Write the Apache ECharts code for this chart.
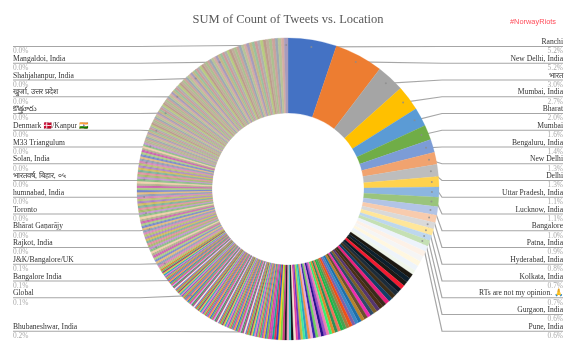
<!DOCTYPE html>
<html>
<head>
<meta charset="utf-8">
<style>
html, body { margin: 0; padding: 0; background: #fff; }
/* the reference is a soft, scaled screenshot */
#chart { width: 570px; height: 353px; filter: blur(0.35px); }
</style>
<script src="https://cdn.jsdelivr.net/npm/echarts@6/dist/echarts.min.js"></script>
</head>
<body>
<div id="chart"></div>
<script>
// labelled slices on the right, clockwise from 12 o'clock
const rightNames = ['Ranchi', 'New Delhi, India', 'भारत', 'Mumbai, India', 'Bharat', 'Mumbai', 'Bengaluru, India', 'New Delhi', 'Delhi', 'Uttar Pradesh, India', 'Lucknow, India', 'Bangalore', 'Patna, India', 'Hyderabad, India', 'Kolkata, India', 'RTs are not my opinion. 🙏', 'Gurgaon, India', 'Pune, India']
const rightValues = [5.2, 5.2, 3.0, 2.7, 2.0, 1.6, 1.4, 1.3, 1.3, 1.1, 1.1, 1.0, 0.9, 0.8, 0.7, 0.7, 0.6, 0.6]
const rightColors = ['#4472C4', '#ED7D31', '#A5A5A5', '#FFC000', '#5B9BD5', '#70AD47', '#7C9CD6', '#F1A36F', '#BDBDBD', '#FFD24D', '#8CB6E0', '#9AC47C', '#B2C4E6', '#F8CBAD', '#D9D9D9', '#FFE699', '#BDD7EE', '#C5E0B4']

// left labels, top row first. percent = where the slice sits around the ring
const leftNames = ['', 'Mangaldoi, India', 'Shahjahanpur, India', 'खुर्जा, उत्तर प्रदेश', 'కొత్తూరు', 'Denmark 🇩🇰/Kanpur 🇮🇳', 'M33 Triangulum', 'Solan, India', 'भारतवर्ष, बिहार, ०५', 'humnabad, India', 'Toronto', 'Bhārat Gaṇarājy', 'Rajkot, India', 'J&K/Bangalore/UK', 'Bangalore India', 'Global', 'Bhubaneshwar, India']
const leftPercents = ['0.0%', '0.0%', '0.0%', '0.0%', '0.0%', '0.0%', '0.0%', '0.0%', '0.0%', '0.0%', '0.0%', '0.0%', '0.0%', '0.1%', '0.1%', '0.1%', '0.2%']
const leftAnchors = [99.9, 92, 88.8, 86, 83.8, 81.6, 79.7, 77.9, 76, 74.1, 72.3, 70.4, 68.3, 66.3, 64, 61.6, 51.8]
const leftRows = [0, 1, 2, 3, 4, 5, 6, 7, 8, 9, 10, 11, 12, 13, 14, 15, 17]

// unlabelled pale slices after Pune
const paleValues = [0.6, 0.6, 0.6, 0.55, 0.55, 0.5]
const paleColors = ['#EDF3FB', '#FDF1E7', '#F5F5F5', '#FFF7E0', '#EEF4FA', '#F0F6EB']

// the dark wedge running down to the bottom of the ring
const darkValues = [
  0.5, 0.5, 0.48, 0.48, 0.46, 0.46, 0.45, 0.44, 0.43, 0.42,
  0.41, 0.4, 0.4, 0.39, 0.38, 0.38, 0.37, 0.36, 0.36, 0.35,
  0.34, 0.34, 0.33, 0.33, 0.32, 0.32, 0.31, 0.31, 0.3, 0.3,
  0.3, 0.29, 0.29, 0.28, 0.28, 0.27, 0.27, 0.26, 0.26, 0.25,
  0.25, 0.25, 0.24, 0.24, 0.24, 0.23, 0.23, 0.22, 0.22, 0.22,
  0.22, 0.22, 0.22
]
const darkColors = [
  '#1c1810', '#0d1f2c', '#1a1a16', '#f21a30', '#0b1824', '#1c2c3a', '#3b2d18', '#123f66', '#e8207a', '#3a2a1c',
  '#4a2f14', '#55356e', '#7b5f28', '#2d4a68', '#f02cb0', '#6a5030', '#b8822c', '#1f6ea8', '#3a88c8', '#8060a8',
  '#f04f18', '#a87a40', '#4aa050', '#18b848', '#f0705a', '#2a8f5a', '#e08a2c', '#38f070', '#f080b0', '#9a50c8',
  '#28108c', '#d888d0', '#70d060', '#3828a8', '#e8a8e0', '#f09048', '#30a0c0', '#40e8a0', '#c0c040', '#6838c0',
  '#e040a0', '#f8e0d0', '#101018', '#38c8c8', '#f0a0c0', '#1a1a20', '#d03880', '#80d040', '#f8d020', '#2840c0',
  '#e83050', '#18a890', '#c050c0'
]

// bottom left, saturated stripes
const brightValues = [
  0.19, 0.18, 0.18, 0.17, 0.17, 0.17, 0.16, 0.16, 0.16, 0.16,
  0.17, 0.16, 0.17, 0.16, 0.16, 0.15, 0.16, 0.16, 0.15, 0.16,
  0.16, 0.15, 0.16, 0.15, 0.16, 0.15, 0.15, 0.16, 0.15, 0.16,
  0.15, 0.15, 0.16, 0.15, 0.15, 0.14, 0.15, 0.15, 0.15, 0.15,
  0.15, 0.14, 0.15, 0.15, 0.16, 0.14, 0.15, 0.15, 0.16, 0.15,
  0.15, 0.14, 0.15, 0.14, 0.15, 0.14, 0.15, 0.14, 0.15, 0.14,
  0.14, 0.14, 0.15, 0.14, 0.13, 0.14, 0.14, 0.14, 0.14, 0.14,
  0.14, 0.13, 0.14, 0.13, 0.14, 0.13, 0.14, 0.13, 0.14, 0.13,
  0.13, 0.13, 0.14, 0.13, 0.13, 0.13, 0.13, 0.13, 0.13, 0.12,
  0.15, 0.15, 0.15, 0.15, 0.15
]
const brightColors = ['#e0409a', '#7cc34a', '#3f6fd0', '#f2b030', '#c04fb8', '#37b59c', '#e85a5a', '#98d050', '#8a5cc8', '#f07fb0', '#2aa8c8', '#d8d040', '#a03a70', '#5fc870', '#e07830', '#6a7ac8', '#f0f0e0', '#b8408a', '#40a060', '#d0a0e0']

// around 9 o'clock, stripes blur into olive and tan
const mutedValues = [
  0.13, 0.12, 0.13, 0.12, 0.12, 0.11, 0.13, 0.12, 0.11, 0.11,
  0.12, 0.11, 0.13, 0.12, 0.12, 0.13, 0.11, 0.12, 0.12, 0.12,
  0.12, 0.13, 0.11, 0.12, 0.11, 0.13, 0.12, 0.12, 0.12, 0.12,
  0.11, 0.12, 0.13, 0.12, 0.12, 0.11, 0.13, 0.12, 0.12, 0.12,
  0.12, 0.12, 0.11, 0.13, 0.12, 0.12, 0.12, 0.11, 0.13, 0.12,
  0.13, 0.11, 0.12, 0.12, 0.12, 0.13, 0.12, 0.11, 0.12, 0.12,
  0.12, 0.12, 0.13, 0.11, 0.12, 0.12, 0.13, 0.12, 0.11, 0.12,
  0.11, 0.13, 0.12, 0.12, 0.12, 0.12, 0.11, 0.13, 0.12, 0.12,
  0.12, 0.11, 0.12, 0.13, 0.12, 0.12, 0.12, 0.13, 0.11, 0.12,
  0.13, 0.12, 0.11, 0.12, 0.12, 0.12, 0.13, 0.11, 0.12, 0.12,
  0.12, 0.12, 0.12, 0.11, 0.13, 0.12, 0.12, 0.12, 0.13, 0.11,
  0.1, 0.1, 0.1, 0.1, 0.1, 0.1, 0.1, 0.1
]
const mutedColors = ['#b4c070', '#d884b8', '#8c9cb8', '#e0b878', '#7484cc', '#a8cc80', '#cc60b0', '#b0b088', '#f0cca8', '#84bc80', '#c090d0', '#a4b868', '#e08c9c', '#78b098', '#d0b858', '#a880c8']

// top left, the palest run up to 12 o'clock
const fadedValues = [
  0.16, 0.17, 0.16, 0.18, 0.17, 0.16, 0.18, 0.17, 0.17, 0.18,
  0.18, 0.17, 0.19, 0.18, 0.18, 0.19, 0.18, 0.19, 0.18, 0.19,
  0.19, 0.2, 0.19, 0.2, 0.2, 0.19, 0.21, 0.2, 0.2, 0.21,
  0.21, 0.2, 0.22, 0.21, 0.22, 0.21, 0.22, 0.22, 0.21, 0.23,
  0.22, 0.23, 0.22, 0.24, 0.23, 0.23, 0.24, 0.23, 0.25, 0.24,
  0.24, 0.25, 0.24, 0.26, 0.25, 0.25, 0.26, 0.25, 0.27, 0.26,
  0.26, 0.27, 0.27, 0.26, 0.28, 0.27, 0.28, 0.27, 0.29, 0.28,
  0.28, 0.3, 0.29, 0.3, 0.31, 0.29, 0.32, 0.3, 0.31, 0.33,
  0.34, 0.3, 0.35, 0.32, 0.4
]
const fadedColors = ['#c0ad9c', '#acc090', '#cca49c', '#9ca8b4', '#b8c498', '#d4aca4', '#a89cbc', '#c4b888', '#9cc09c', '#cc9c9c', '#b0b0b0', '#b8cc80', '#bc9c8c']

const cx = 288
const cy = 189
const outerR = 151
const dotR = 144

const allValues = [].concat(rightValues, paleValues, darkValues, brightValues, mutedValues, fadedValues)
const total = allValues.reduce((a, b) => a + b, 0)
const fadedStart = allValues.length - fadedValues.length

// mid position of every slice in percent of the ring
let running = 0
const midPercent = allValues.map(v => {
  const m = running + v / 2
  running += v
  return m / total * 100
})

function colorAt(i) {
  let k = i
  if (k < rightColors.length) return rightColors[k]
  k -= rightColors.length
  if (k < paleColors.length) return paleColors[k]
  k -= paleColors.length
  if (k < darkColors.length) return darkColors[k]
  k -= darkColors.length
  if (k < brightValues.length) return brightColors[k % brightColors.length]
  k -= brightValues.length
  // pairs of muted slices read as one stripe, like the reference at this size
  if (k < mutedValues.length) return mutedColors[Math.floor(k / 2) % mutedColors.length]
  k -= mutedValues.length
  return fadedColors[k % fadedColors.length]
}

// which slices carry a label
const spots = {}
rightNames.forEach((name, i) => {
  spots[i] = { side: 'r', row: i, name: name, pct: rightValues[i].toFixed(1) + '%' }
})
leftNames.forEach((name, i) => {
  let idx = midPercent.findIndex(m => m >= leftAnchors[i])
  if (idx < 0) idx = allValues.length - 1
  spots[idx] = { side: 'l', row: leftRows[i], name: name, pct: leftPercents[i] }
})

function rowY(row) {
  return 46.5 + 16.75 * row
}

const pieData = allValues.map((v, i) => {
  const spot = spots[i]
  const c = colorAt(i)
  // border in the slice's own colour closes the white seams between thin slices
  const item = { value: v, name: spot ? spot.name : 'loc' + i, itemStyle: { color: c, borderColor: c, borderWidth: i >= fadedStart ? 0.45 : 0.25 } }
  if (spot) {
    item.label = { show: true, formatter: '{n|' + (spot.name || ' ') + '}\n{p|' + spot.pct + '}' }
    item.labelLine = { show: true }
  }
  return item
})

const dotData = Object.keys(spots).map(i => [dotR, midPercent[i]])

const chart = echarts.init(document.getElementById('chart'))
chart.setOption({
  animation: false,
  title: [
    {
      text: 'SUM of Count of Tweets vs. Location',
      left: 283,
      top: 8,
      textAlign: 'center',
      textStyle: { fontFamily: 'Liberation Serif', fontSize: 12.5, fontWeight: 'normal', color: '#595959' }
    },
    {
      text: '#NorwayRiots',
      left: 505,
      top: 13,
      textStyle: { fontFamily: 'Liberation Sans', fontSize: 7.4, fontWeight: 'normal', color: '#ff4d5a' }
    }
  ],
  polar: { center: [cx, cy], radius: outerR },
  angleAxis: { type: 'value', min: 0, max: 100, startAngle: 90, show: false },
  radiusAxis: { type: 'value', min: 0, max: outerR, show: false },
  series: [
    {
      type: 'pie',
      center: [cx, cy],
      radius: [76, outerR],
      startAngle: 90,
      avoidLabelOverlap: false,
      data: pieData,
      label: {
        show: false,
        rich: {
          n: { fontFamily: 'Liberation Serif', fontSize: 7.6, color: '#333', lineHeight: 10 },
          p: { fontFamily: 'Liberation Serif', fontSize: 7.4, color: '#aaa', lineHeight: 9 }
        }
      },
      labelLine: { show: false, lineStyle: { color: '#a6a6a6', width: 1.2 } },
      emphasis: { disabled: true },
      labelLayout(params) {
        const spot = spots[params.dataIndex]
        if (!spot) return {}
        const a = midPercent[params.dataIndex] / 100 * Math.PI * 2
        const dx = cx + Math.sin(a) * dotR
        const dy = cy - Math.cos(a) * dotR
        const y = rowY(spot.row)
        if (spot.side === 'r') {
          return {
            x: 563, y: y, align: 'right', verticalAlign: 'middle',
            labelLinePoints: [[dx, dy], [Math.max(dx, 442), y], [563, y]]
          }
        }
        return {
          x: 13, y: y, align: 'left', verticalAlign: 'middle',
          labelLinePoints: [[dx, dy], [Math.min(dx, 140), y], [13, y]]
        }
      }
    },
    {
      type: 'scatter',
      coordinateSystem: 'polar',
      data: dotData,
      symbolSize: 2,
      itemStyle: { color: '#8c8c8c' },
      silent: true,
      z: 5
    }
  ]
})
</script>
</body>
</html>
